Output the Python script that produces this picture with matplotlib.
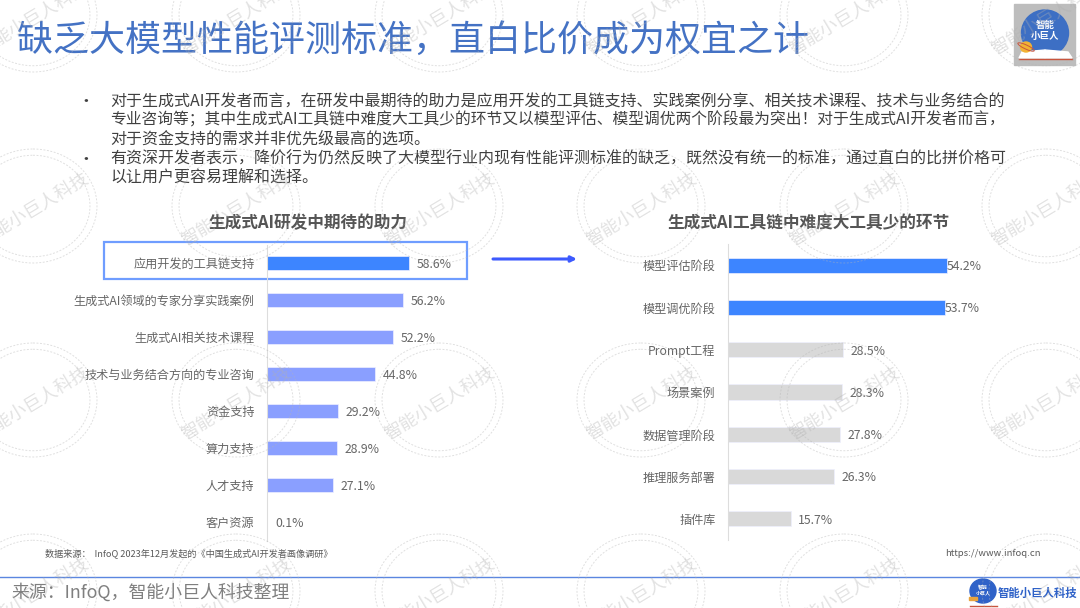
import matplotlib
matplotlib.use('Agg')
import matplotlib.pyplot as plt
from matplotlib.patches import Ellipse, Rectangle, Polygon

plt.rcParams['font.family'] = ['Noto Sans CJK SC', 'DejaVu Sans']

# data
left_title = '生成式AI研发中期待的助力'
left_labels = ['应用开发的工具链支持', '生成式AI领域的专家分享实践案例', '生成式AI相关技术课程',
               '技术与业务结合方向的专业咨询', '资金支持', '算力支持', '人才支持', '客户资源']
left_values = [58.6, 56.2, 52.2, 44.8, 29.2, 28.9, 27.1, 0.1]

right_title = '生成式AI工具链中难度大工具少的环节'
right_labels = ['模型评估阶段', '模型调优阶段', 'Prompt工程', '场景案例', '数据管理阶段', '推理服务部署', '插件库']
right_values = [54.2, 53.7, 28.5, 28.3, 27.8, 26.3, 15.7]

title = '缺乏大模型性能评测标准，直白比价成为权宜之计'
body_lines = [
    '对于生成式AI开发者而言，在研发中最期待的助力是应用开发的工具链支持、实践案例分享、相关技术课程、技术与业务结合的',
    '专业咨询等；其中生成式AI工具链中难度大工具少的环节又以模型评估、模型调优两个阶段最为突出！对于生成式AI开发者而言，',
    '对于资金支持的需求并非优先级最高的选项。',
    '有资深开发者表示，降价行为仍然反映了大模型行业内现有性能评测标准的缺乏，既然没有统一的标准，通过直白的比拼价格可',
    '以让用户更容易理解和选择。',
]
data_source = '数据来源：  InfoQ 2023年12月发起的《中国生成式AI开发者画像调研》'
site = 'https://www.infoq.cn'
footer = '来源：InfoQ，智能小巨人科技整理'
watermark = '智能小巨人科技'

W, H = 1080, 608
BLUE = '#3d85ff'
PURPLE = '#8a9fff'
GREY_BAR = '#d9d9d9'
TEXT = '#666666'
OFFICE_BLUE = '#4472c4'

fig = plt.figure(figsize=(W / 100, H / 100), dpi=100, facecolor='white')


def px_axes(x0, y0, x1, y1, z=1):
    # axes placed by pixel box, y measured from the top of the image
    return fig.add_axes([x0 / W, 1 - y1 / H, (x1 - x0) / W, (y1 - y0) / H], zorder=z)


# page layer in pixel coordinates
page = px_axes(0, 0, W, H, 0)
page.set_xlim(0, W)
page.set_ylim(H, 0)
page.axis('off')

page.text(17, 41, title, fontsize=25.9, color=OFFICE_BLUE, va='center', ha='left')

body_y = [102, 120.5, 139.5, 159, 178]
body_size = [11.53, 11.35, 11.5, 11.5, 11.5]
for line, y, s in zip(body_lines, body_y, body_size):
    page.text(110, y, line, fontsize=s, color='#404040', va='center', ha='left')
page.text(86, 102, '•', fontsize=12, color='#404040', va='center', ha='center')
page.text(86, 159, '•', fontsize=12, color='#404040', va='center', ha='center')

page.text(308, 223, left_title, fontsize=12, fontweight='bold', color='#555555', ha='center', va='center')
page.text(809, 223, right_title, fontsize=12, fontweight='bold', color='#555555', ha='center', va='center')

page.add_patch(Rectangle((104, 242), 363, 37, fill=False, edgecolor='#6f9dff', lw=1.6))
page.annotate('', xy=(577, 259), xytext=(493, 259),
              arrowprops=dict(arrowstyle='-|>', color='#3d5afe', lw=2.2, mutation_scale=8, shrinkA=0, shrinkB=0))

page.text(45, 553, data_source, fontsize=6.6, color='#595959', va='center', ha='left')
page.text(1041, 553, site, fontsize=6.8, color='#595959', va='center', ha='right')

page.plot([0, W], [577, 577], color='#5b86e0', lw=1)
page.text(11, 592, footer, fontsize=12.85, color='#7f7f7f', va='center', ha='left')

# small logo bottom right
page.add_patch(Ellipse((983, 591), 26, 24, color='#2f62c8'))
page.add_patch(Rectangle((969, 597), 8, 3, color='#e8a33d'))
page.plot([970, 997], [606, 606], color='#c9553d', lw=1)
page.text(983, 590, '智能\n小巨人', fontsize=3.6, color='white', fontweight='bold', ha='center', va='center', linespacing=1.1)
page.text(998, 593, '智能小巨人科技', fontsize=8.2, color='#2f62c8', fontweight='bold', ha='left', va='center')

# big logo top right
page.add_patch(Rectangle((1014, 4), 61, 61, color='#bdbdbd'))
page.add_patch(Ellipse((1045, 33), 47, 46, color='#3d6fc4'))
page.add_patch(Polygon([[1019, 58], [1022, 52], [1045, 50], [1045, 58]], color='#ffffff'))
page.add_patch(Polygon([[1045, 58], [1045, 50], [1068, 52], [1072, 58]], color='#ffffff'))
page.add_patch(Ellipse((1026, 47), 11, 10, color='#f2b233'))
page.add_patch(Ellipse((1026, 47), 18, 4, angle=25, fill=False, edgecolor='#c9553d', lw=0.7))
page.plot([1019, 1072], [58.5, 58.5], color='#c9553d', lw=1)
page.text(1045, 25, '智能', fontsize=6.8, color='white', fontweight='bold', ha='center', va='center')
page.text(1045, 36, '小巨人', fontsize=6.8, color='white', fontweight='bold', ha='center', va='center')


def bars(ax, labels, values, colors, xmax, gaps):
    ax.barh(labels, values, height=0.36, color=colors, edgecolor='#eef0ff', linewidth=0.5)
    ax.set_xlim(0, xmax)
    ax.set_ylim(len(labels) - 0.5, -0.5)
    ax.patch.set_alpha(0)
    for side in ['top', 'right', 'bottom']:
        ax.spines[side].set_visible(False)
    ax.spines['left'].set_color('#dddddd')
    ax.spines['left'].set_linewidth(0.8)
    ax.set_xticks([])
    ax.tick_params(axis='y', length=0, pad=9, labelsize=8.75, labelcolor=TEXT)
    for i, v in enumerate(values):
        ax.annotate(f'{v}%', (v, i), xytext=(gaps[i], -1), textcoords='offset points',
                    va='center', ha='left', fontsize=8.8, color=TEXT)


ax1 = px_axes(267, 244.5, 267 + 169.4, 540.5, 1)
bars(ax1, left_labels, left_values, [BLUE] + [PURPLE] * 7, 70, [5.5] * 8)

ax2 = px_axes(728, 244, 728 + 242.4, 540, 1)
bars(ax2, right_labels, right_values, [BLUE] * 2 + [GREY_BAR] * 5, 60, [0, 0, 5, 5, 5, 5, 5])

# watermark layer on top
wm = px_axes(0, 0, W, H, 5)
wm.set_xlim(0, W)
wm.set_ylim(H, 0)
wm.axis('off')
wm.patch.set_alpha(0)
for cy in [15, 206, 400, 591]:
    for cx in [33, 236, 439, 641, 844, 1046]:
        for k in [1.0, 0.89]:
            wm.add_patch(Ellipse((cx, cy), 128 * k, 114 * k, fill=False, edgecolor='#b5b5b5',
                                 lw=0.7, ls=(0, (2, 1.6)), alpha=0.42))
        wm.text(cx + 1, cy + 3, watermark, fontsize=12.9, color='#b0b0b0', alpha=0.36, rotation=31,
                ha='center', va='center', rotation_mode='anchor')

fig.savefig('out.png', dpi=100)
